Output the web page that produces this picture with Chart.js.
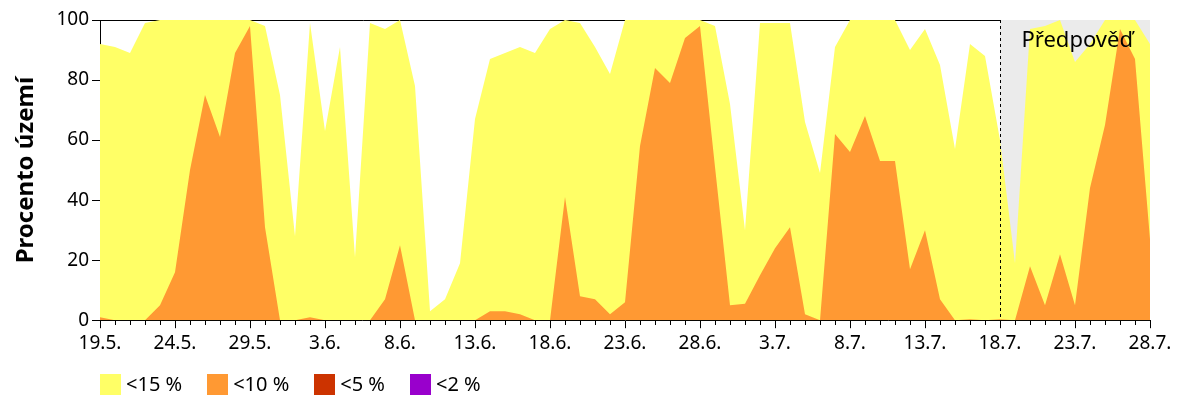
<!DOCTYPE html>
<html>
<head>
<meta charset="utf-8">
<script src="https://cdn.jsdelivr.net/npm/chart.js@4.4.1/dist/chart.umd.min.js"></script>
<style>
  body { margin: 0; background: #fff; font-family: "Noto Sans", sans-serif; }
  #wrap { position: relative; width: 1200px; height: 400px; }
  #legend { position: absolute; left: 100px; top: 373px; display: flex; font-size: 20px; line-height: 22px; color: #000; }
  #legend .item { display: flex; align-items: center; margin-right: 25px; }
  #legend .box { width: 21px; height: 21px; margin-right: 5px; }
</style>
</head>
<body>
<div id="wrap">
  <canvas id="chart"></canvas>
  <div id="legend"></div>
</div>
<script>
// days since 19.5. (0 .. 70)
var days = Array.from({length: 71}, function(_, i) { return i; });
var tickLabels = ["19.5.","24.5.","29.5.","3.6.","8.6.","13.6.","18.6.","23.6.","28.6.","3.7.","8.7.","13.7.","18.7.","23.7.","28.7."];
var forecastStart = 60; // 18.7.

var below15 = [92,91,89,99,100,100,100,100,100,100,100,98,75,28,99,
  63,91,21,99,97,100,78,3,7,19,67,87,89,91,
  89,97,100,99,91,82,100,100,100,100,100,100,98,72,
  30,99,99,99,66,49,91,100,100,100,100,90,97,85,
  57,92,88,60,19,97,98,100,86,92,100,100,100,92];
var below10 = [1,0,0,0,5,16,50,75,61,89,98,31,0,0,1,
  0,0,0,0,7,25,0,0,0,0,0,3,3,2,
  0,0,41,8,7,2,6,58,84,79,94,98,51,5,
  5.5,15,24,31,2,0,62,56,68,53,53,17,30,7,
  0,0.3,0,0.3,0,18,5,22,5,44,65,97,87,27];
var below5 = days.map(function() { return 0; });
var below2 = days.map(function() { return 0; });

var series = [
  { label: "<15 %", data: below15, color: "#ffff66", order: 4 },
  { label: "<10 %", data: below10, color: "#ff9933", order: 3 },
  { label: "<5 %",  data: below5,  color: "#cc3300", order: 2 },
  { label: "<2 %",  data: below2,  color: "#9900cc", order: 1 }
];

var datasets = series.map(function(s) {
  return {
    label: s.label,
    data: s.data,
    backgroundColor: s.color,
    borderWidth: 0,
    pointRadius: 0,
    tension: 0,
    fill: 'origin',
    order: s.order
  };
});
// forecast shading
datasets.push({
  label: "forecast",
  data: days.map(function(d) { return d >= forecastStart ? 100 : null; }),
  backgroundColor: "#ebebeb",
  borderWidth: 0,
  pointRadius: 0,
  fill: 'origin',
  order: 10
});

var forecastMark = {
  id: 'forecastMark',
  afterDatasetsDraw: function(chart) {
    var ctx = chart.ctx, a = chart.chartArea;
    var x = Math.round(chart.scales.x.getPixelForValue(forecastStart)) + 0.5;
    ctx.save();
    ctx.strokeStyle = '#000';
    ctx.lineWidth = 1;
    ctx.setLineDash([3, 3]);
    ctx.beginPath();
    ctx.moveTo(x, a.top);
    ctx.lineTo(x, a.bottom);
    ctx.stroke();
    ctx.setLineDash([]);
    ctx.fillStyle = '#000';
    ctx.font = '22px "Noto Sans"';
    ctx.textBaseline = 'middle';
    ctx.fillText('Předpověď', x + 21, a.top + 21);
    ctx.restore();
  }
};

new Chart(document.getElementById("chart"), {
  type: 'line',
  data: { labels: days, datasets: datasets },
  plugins: [forecastMark],
  options: {
    responsive: true,
    maintainAspectRatio: false,
    animation: false,
    layout: { padding: { left: 8, right: 50, top: 20, bottom: 41 } },
    plugins: { legend: { display: false }, tooltip: { enabled: false } },
    scales: {
      x: {
        type: 'linear',
        min: 0,
        max: 70,
        z: 1,
        border: { color: '#000', width: 1 },
        grid: {
          drawOnChartArea: false,
          tickLength: 8,
          tickColor: '#000',
          tickBorderDash: function(c) { return c.tick && c.tick.value % 5 === 0 ? [] : [4, 20]; }
        },
        ticks: {
          stepSize: 1,
          autoSkip: false,
          maxRotation: 0,
          color: '#000',
          padding: 4,
          font: { family: 'Noto Sans', size: 19 },
          callback: function(v) { return v % 5 === 0 ? tickLabels[v / 5] : ''; }
        }
      },
      y: {
        min: 0,
        max: 100,
        z: 1,
        afterFit: function(scale) { scale.width = 92; },
        border: { color: '#000', width: 1 },
        grid: {
          color: function(c) { return c.tick && c.tick.value === 100 ? '#000' : 'rgba(0,0,0,0)'; },
          tickColor: '#000',
          tickLength: 8
        },
        ticks: {
          stepSize: 20,
          color: '#000',
          padding: 3,
          font: { family: 'Noto Sans', size: 19 }
        },
        title: {
          display: true,
          text: 'Procento území',
          color: '#000',
          font: { family: 'Noto Sans', size: 24, weight: 'bold' },
          padding: { top: 4, bottom: 4 }
        }
      }
    }
  }
});

// legend below the plot
var legend = document.getElementById('legend');
series.forEach(function(s) {
  var item = document.createElement('div');
  item.className = 'item';
  var box = document.createElement('span');
  box.className = 'box';
  box.style.background = s.color;
  var txt = document.createElement('span');
  txt.textContent = s.label;
  item.appendChild(box);
  item.appendChild(txt);
  legend.appendChild(item);
});
</script>
</body>
</html>
